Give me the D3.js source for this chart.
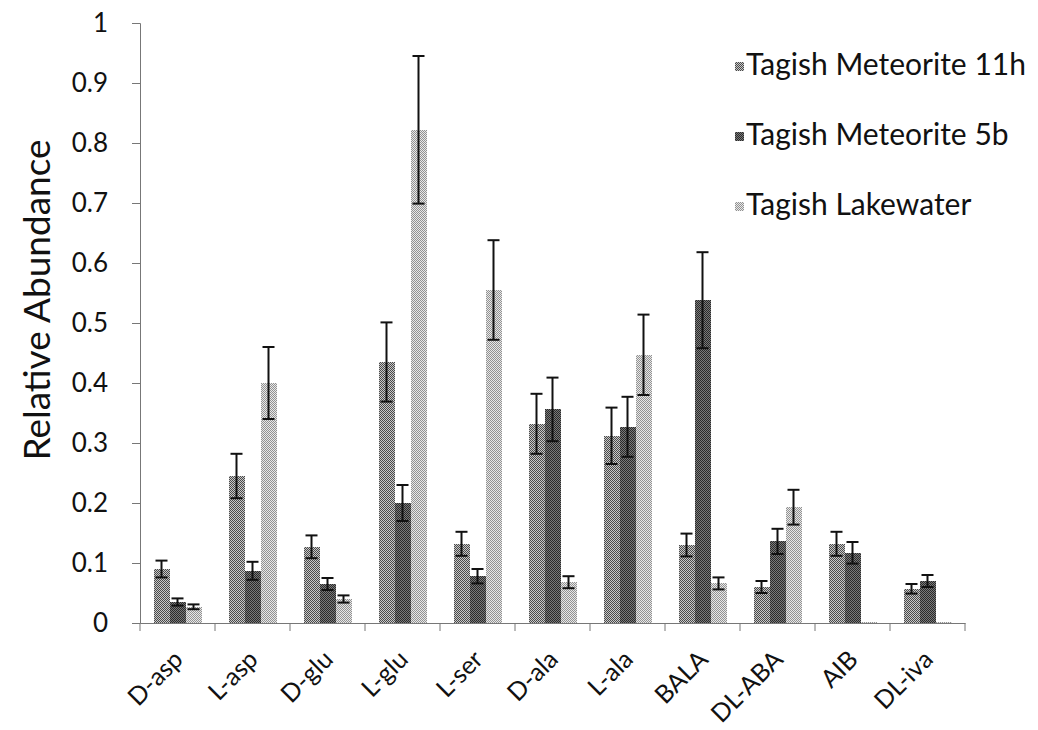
<!DOCTYPE html>
<html>
<head>
<meta charset="utf-8">
<script src="https://cdn.jsdelivr.net/npm/d3@7"></script>
<style>
  body { margin: 0; background: #fff; }
  svg { font-family: Lato, "Open Sans", sans-serif; }
</style>
</head>
<body>
<svg id="chart"></svg>
<script>
// Categories and series
const categories = ['D-asp', 'L-asp', 'D-glu', 'L-glu', 'L-ser', 'D-ala', 'L-ala', 'BALA', 'DL-ABA', 'AIB', 'DL-iva'];
const seriesNames = ['Tagish Meteorite 11h', 'Tagish Meteorite 5b', 'Tagish Lakewater'];

const met11h = [0.09, 0.245, 0.127, 0.435, 0.132, 0.332, 0.312, 0.13, 0.06, 0.132, 0.057];
const met11hErr = [0.014, 0.037, 0.019, 0.066, 0.02, 0.05, 0.047, 0.019, 0.01, 0.02, 0.008];
const met5b = [0.035, 0.087, 0.065, 0.2, 0.078, 0.356, 0.327, 0.538, 0.136, 0.117, 0.07];
const met5bErr = [0.006, 0.015, 0.01, 0.03, 0.012, 0.053, 0.05, 0.08, 0.021, 0.018, 0.01];
const lake = [0.027, 0.4, 0.04, 0.822, 0.555, 0.068, 0.447, 0.066, 0.193, 0.002, 0.002];
const lakeErr = [0.004, 0.06, 0.006, 0.123, 0.083, 0.01, 0.067, 0.01, 0.029, 0, 0];

const yTicks = [0, 0.1, 0.2, 0.3, 0.4, 0.5, 0.6, 0.7, 0.8, 0.9, 1];

const values = [met11h, met5b, lake];
const errors = [met11hErr, met5bErr, lakeErr];

// Layout
const W = 1038, H = 730;
const plot = { left: 140, right: 965, top: 23, bottom: 623 };

const svg = d3.select('#chart')
  .attr('width', W)
  .attr('height', H);

// Dithered fills like the printed figure
const patterns = [
  { id: 'p11h', bg: '#c8c8c8', fg: '#4a4a4a' },
  { id: 'p5b', bg: '#7a7a7a', fg: '#2a2a2a' },
  { id: 'pLake', bg: '#e8e8e8', fg: '#929292' }
];
const defs = svg.append('defs');
patterns.forEach(p => {
  const pat = defs.append('pattern')
    .attr('id', p.id)
    .attr('patternUnits', 'userSpaceOnUse')
    .attr('width', 2)
    .attr('height', 2);
  pat.append('rect').attr('width', 2).attr('height', 2).attr('fill', p.bg);
  pat.append('rect').attr('width', 1).attr('height', 1).attr('fill', p.fg);
  pat.append('rect').attr('x', 1).attr('y', 1).attr('width', 1).attr('height', 1).attr('fill', p.fg);
});

// Scales
const x = d3.scaleBand()
  .domain(categories)
  .range([plot.left, plot.right]);

const xInner = d3.scaleBand()
  .domain(d3.range(seriesNames.length))
  .range([13.5, x.bandwidth() - 13.5]);

const y = d3.scaleLinear()
  .domain([0, 1])
  .range([plot.bottom, plot.top]);

// Bars
const groups = svg.append('g')
  .selectAll('g')
  .data(seriesNames.map((name, i) => ({ name, i })))
  .enter().append('g')
  .attr('fill', d => `url(#${patterns[d.i].id})`);

groups.selectAll('rect')
  .data(d => categories.map((c, j) => ({ c, s: d.i, v: values[d.i][j] })))
  .enter().append('rect')
  .attr('shape-rendering', 'crispEdges')
  .attr('x', d => x(d.c) + xInner(d.s))
  .attr('y', d => y(d.v))
  .attr('width', xInner.bandwidth())
  .attr('height', d => y(0) - y(d.v));

// Error bars
const errData = [];
seriesNames.forEach((name, i) => {
  categories.forEach((c, j) => {
    if (errors[i][j] > 0) errData.push({ c, s: i, v: values[i][j], e: errors[i][j] });
  });
});

const err = svg.append('g')
  .attr('stroke', '#111')
  .attr('stroke-width', 2)
  .selectAll('g')
  .data(errData)
  .enter().append('g')
  .attr('transform', d => `translate(${x(d.c) + xInner(d.s) + xInner.bandwidth() / 2},0)`);

err.append('line')
  .attr('y1', d => y(d.v + d.e))
  .attr('y2', d => y(d.v - d.e));
err.append('line')
  .attr('x1', -6).attr('x2', 6)
  .attr('y1', d => y(d.v + d.e))
  .attr('y2', d => y(d.v + d.e));
err.append('line')
  .attr('x1', -6).attr('x2', 6)
  .attr('y1', d => y(d.v - d.e))
  .attr('y2', d => y(d.v - d.e));

// Y axis
const yAxis = d3.axisLeft(y)
  .tickValues(yTicks)
  .tickSize(8)
  .tickPadding(24)
  .tickFormat(d => String(+d.toFixed(1)));

const gy = svg.append('g')
  .attr('transform', `translate(${plot.left},0)`)
  .call(yAxis);
gy.select('.domain').attr('stroke', '#777');
gy.selectAll('.tick line').attr('stroke', '#777');
gy.selectAll('.tick text')
  .attr('font-size', 26)
  .attr('fill', '#111')
  .attr('font-family', 'Lato');

// X axis
const xAxis = d3.axisBottom(x)
  .tickSize(0)
  .tickFormat('');

const gx = svg.append('g')
  .attr('transform', `translate(0,${plot.bottom})`)
  .call(xAxis);
gx.select('.domain').attr('stroke', '#777');

// Ticks between categories
gx.selectAll('.sep')
  .data(d3.range(categories.length + 1))
  .enter().append('line')
  .attr('class', 'sep')
  .attr('stroke', '#777')
  .attr('x1', i => plot.left + i * x.step())
  .attr('x2', i => plot.left + i * x.step())
  .attr('y1', 0)
  .attr('y2', 8);

// Rotated category labels
svg.append('g')
  .selectAll('text')
  .data(categories)
  .enter().append('text')
  .attr('transform', d => `translate(${x(d) + x.bandwidth() / 2 + 7},${plot.bottom + 38}) rotate(-45)`)
  .attr('text-anchor', 'end')
  .attr('font-size', 25)
  .attr('fill', '#111')
  .text(d => d);

// Y axis title
svg.append('text')
  .attr('transform', `translate(50,300) rotate(-90)`)
  .attr('text-anchor', 'middle')
  .attr('font-size', 37)
  .attr('fill', '#111')
  .text('Relative Abundance');

// Legend
const legend = svg.append('g')
  .selectAll('g')
  .data(seriesNames)
  .enter().append('g')
  .attr('transform', (d, i) => `translate(735,${75 + i * 70})`);

legend.append('rect')
  .attr('y', -13)
  .attr('width', 9)
  .attr('height', 9)
  .attr('fill', (d, i) => `url(#${patterns[i].id})`);

legend.append('text')
  .attr('x', 11)
  .attr('font-size', 30)
  .attr('fill', '#111')
  .text(d => d);
</script>
</body>
</html>
